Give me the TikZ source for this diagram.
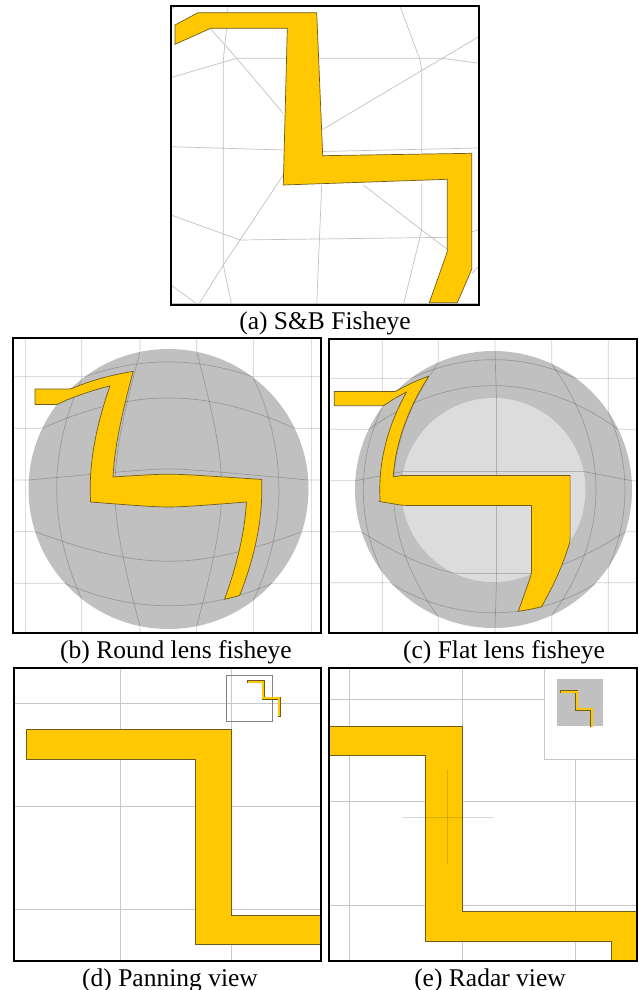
\documentclass[tikz,border=0pt]{standalone}
\usepackage{fontspec}
\setmainfont{Liberation Serif}
\definecolor{zfill}{RGB}{255,200,0}
\definecolor{zedge}{RGB}{110,92,30}
\definecolor{lensgray}{RGB}{192,192,192}
\definecolor{lenslight}{RGB}{220,220,220}
\definecolor{gridgray}{RGB}{200,200,200}
\definecolor{thumbgray}{RGB}{130,130,130}
\begin{document}
\begin{tikzpicture}[x=1pt,y=-1pt,
  declare function={
    bs(\x,\y)=max(1,2.43/(1.43*veclen(\x-168.5,\y-489)/140+1));
    bx(\x,\y)=168.5+(\x-168.5)*bs(\x,\y);
    by(\x,\y)=489+(\y-489)*bs(\x,\y);
    cg(\t)=1.92*\t/(0.92*\t+1);
    cs(\t)=(\t<46)?2:((\t<138.5)?((92+46.5*cg((\t-46)/92.5))/\t):1);
    cx(\x,\y)=493.5+(\x-493.5)*cs(veclen(\x-493.5,\y-490));
    cy(\x,\y)=490+(\y-490)*cs(veclen(\x-493.5,\y-490));
  },
  panel/.style={draw=black,line width=2pt},
  zshape/.style={fill=zfill,draw=zedge,line width=0.7pt,line join=miter},
  agrid/.style={draw=black!24,line width=0.7pt},
  gl/.style={draw=black,draw opacity=0.2,line width=0.7pt},
  flatgrid/.style={draw=gridgray,line width=0.7pt},
  captext/.style={anchor=base,font=\fontsize{25.5}{30}\selectfont,inner sep=0pt},
]
\useasboundingbox (0,0) rectangle (639,990);
\fill[white] (0,0) rectangle (639,990);

% ---------------- (a) S&B fisheye
\begin{scope}
\clip (171,6) rectangle (479,305);
\draw[agrid] (171,9.5) -- (176,6);
\draw[agrid] (228,6) -- (226.7,27) -- (223.3,60) -- (223.3,150) -- (223.3,265) -- (231.7,305);
\draw[agrid] (210,28.3) -- (236.7,58.3) -- (283.3,113.3);
\draw[agrid] (171.7,77.3) -- (236.7,58.3) -- (441.7,58.3) -- (479,63.3);
\draw[agrid] (171,146.7) -- (283.3,150);
\draw[agrid] (400,6) -- (420,60) -- (421.7,70) -- (421.7,153.3);
\draw[agrid] (321.7,130) -- (479,36.5);
\draw[agrid] (321.7,151.5) -- (479,148);
\draw[agrid] (171,215) -- (240,240) -- (448.3,237.3);
\draw[agrid] (471.7,231.7) -- (479,230);
\draw[agrid] (283.3,175) -- (240,240) -- (223.3,265) -- (198.3,305);
\draw[agrid] (171,285) -- (198.3,305);
\draw[agrid] (321.7,185) -- (316.7,305);
\draw[agrid] (363.3,185) -- (421.7,230) -- (448.3,250);
\draw[agrid] (421.7,183.3) -- (421.7,230) -- (403.3,305);
\draw[agrid] (471.7,273.3) -- (479,266);
\draw[agrid] (171,303) -- (479,303);
\filldraw[zshape] (175,25) -- (198,12.7) -- (316.7,12.7) -- (322.7,155.7) -- (471.7,153.3)
  -- (471.7,269.3) -- (457.3,302.7) -- (429.3,302.7) -- (447.3,251.7) -- (447.3,179.3)
  -- (283.3,185) -- (287.3,28.3) -- (210.7,28.3) -- (175,44.3) -- cycle;
\end{scope}
\draw[panel] (171,6) rectangle (479,305);
\node[captext] (capa) at (325,329) {(a) S\&B Fisheye};

% ---------------- (b) Round lens fisheye
\begin{scope}
\clip (13,338) rectangle (321,633);
\fill[lensgray] (168.5,489) circle[radius=140];
\foreach \v in {25,81.7,140,196.7,253.3,311}
  \draw[gl] plot[domain=338:633,samples=90] ({bx(\v,\x)},{by(\v,\x)});
\foreach \h in {376.7,428.3,480,531.7,583.3}
  \draw[gl] plot[domain=13:321,samples=90] ({bx(\x,\h)},{by(\x,\h)});
\filldraw[zshape] plot[domain=35:138.5,samples=40] ({bx(\x,389)},{by(\x,389)})
  -- plot[domain=389:482.5,samples=40] ({bx(138.5,\x)},{by(138.5,\x)})
  -- plot[domain=138.5:231.7,samples=40] ({bx(\x,482.5)},{by(\x,482.5)})
  -- plot[domain=482.5:583.5,samples=40] ({bx(231.7,\x)},{by(231.7,\x)})
  -- plot[domain=231.7:216.5,samples=8] ({bx(\x,583.5)},{by(\x,583.5)})
  -- plot[domain=583.5:497,samples=40] ({bx(216.5,\x)},{by(216.5,\x)})
  -- plot[domain=216.5:120.5,samples=40] ({bx(\x,497)},{by(\x,497)})
  -- plot[domain=497:404.5,samples=40] ({bx(120.5,\x)},{by(120.5,\x)})
  -- plot[domain=120.5:35,samples=40] ({bx(\x,404.5)},{by(\x,404.5)})
  -- cycle;
\end{scope}
\draw[panel] (13,338) rectangle (321,633);
\node[captext] (capb) at (176,658) {(b) Round lens fisheye};

% ---------------- (c) Flat lens fisheye
\begin{scope}
\clip (329,339) rectangle (637,633);
\fill[lensgray] (493.5,489.5) circle[radius=138.5];
\fill[lenslight] (493.5,490) circle[radius=92];
\foreach \v in {382.3,438.3,495,551.7,608.3}
  \draw[gl] plot[domain=339:633,samples=100] ({cx(\v,\x)},{cy(\v,\x)});
\foreach \h in {378.3,429.3,480.7,531.7,582.7}
  \draw[gl] plot[domain=329:637,samples=100] ({cx(\x,\h)},{cy(\x,\h)});
\filldraw[zshape] plot[domain=334.3:437.5,samples=40] ({cx(\x,391.5)},{cy(\x,391.5)})
  -- plot[domain=391.5:482.7,samples=40] ({cx(437.5,\x)},{cy(437.5,\x)})
  -- plot[domain=437.5:531.8,samples=40] ({cx(\x,482.7)},{cy(\x,482.7)})
  -- plot[domain=482.7:583,samples=40] ({cx(531.8,\x)},{cy(531.8,\x)})
  -- plot[domain=531.8:512.5,samples=8] ({cx(\x,583)},{cy(\x,583)})
  -- plot[domain=583:497.7,samples=40] ({cx(512.5,\x)},{cy(512.5,\x)})
  -- plot[domain=512.5:418.5,samples=40] ({cx(\x,497.7)},{cy(\x,497.7)})
  -- plot[domain=497.7:405.7,samples=40] ({cx(418.5,\x)},{cy(418.5,\x)})
  -- plot[domain=418.5:334.3,samples=40] ({cx(\x,405.7)},{cy(\x,405.7)})
  -- cycle;
\end{scope}
\draw[panel] (329,339) rectangle (637,633);
\node[captext] (capc) at (504,658) {(c) Flat lens fisheye};

% ---------------- (d) Panning view
\begin{scope}
\clip (14,668) rectangle (321,961);
\foreach \v in {120,231.7} \draw[flatgrid] (\v,668) -- (\v,961);
\foreach \h in {703.3,806.7,909.3} \draw[flatgrid] (14,\h) -- (321,\h);
\filldraw[zshape] (26.7,729.3) -- (231.7,729.3) -- (231.7,915) -- (330,915) -- (330,944.3)
  -- (195.7,944.3) -- (195.7,759.3) -- (26.7,759.3) -- cycle;
\draw[thumbgray,line width=0.7pt] (226.7,675) rectangle (272.7,721);
\draw[zedge,line width=3.4pt,line join=miter] (247.3,681.7) -| (263.3,698.3) -| (279.3,716.7);
\draw[zfill,line width=1.8pt,line join=miter] (248,681.7) -| (263.3,698.3) -| (279.3,716);
\end{scope}
\draw[panel] (14,668) rectangle (321,961);
\node[captext] (capd) at (170,986) {(d) Panning view};

% ---------------- (e) Radar view
\begin{scope}
\clip (329,668) rectangle (636.5,961);
\foreach \v in {349.3,462.3,575.7} \draw[flatgrid] (\v,668) -- (\v,961);
\foreach \h in {699.3,801.7,905} \draw[flatgrid] (329,\h) -- (637,\h);
\filldraw[zshape] (320,726) -- (462.3,726) -- (462.3,911.7) -- (645,911.7) -- (645,970)
  -- (611.7,970) -- (611.7,941) -- (425.7,941) -- (425.7,755) -- (320,755) -- cycle;
\draw[black,opacity=0.15,line width=0.8pt] (401.7,817) -- (494.3,817);
\draw[black,opacity=0.15,line width=0.8pt] (447.7,770.3) -- (447.7,863.7);
\filldraw[fill=white,draw=gridgray,line width=0.7pt] (544.3,660) rectangle (645,759.3);
\fill[lensgray] (556.7,679) rectangle (603.3,725.7);
\draw[zedge,line width=3.4pt,line join=miter] (560,691.7) -| (576.7,709.3) -| (591.7,727.3);
\draw[zfill,line width=1.8pt,line join=miter] (560.7,691.7) -| (576.7,709.3) -| (591.7,726.6);
\end{scope}
\draw[panel] (329,668) rectangle (636.5,961);
\node[captext] (cape) at (490,986) {(e) Radar view};
\end{tikzpicture}
\end{document}
